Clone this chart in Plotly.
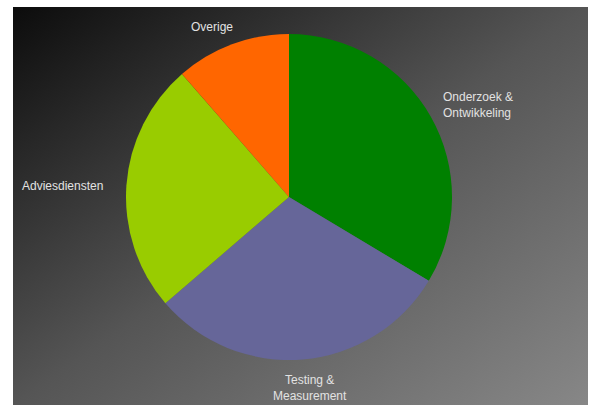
import base64
import plotly.graph_objects as go

# Revenue share by activity
categories = ["Onderzoek &<br>Ontwikkeling", "Testing &<br>Measurement", "Adviesdiensten", "Overige"]
shares = [33.6, 30.1, 24.9, 11.4]
slice_colors = ["#008000", "#666699", "#99cc00", "#ff6600"]

W, H = 593, 406

# Diagonal dark-to-grey backdrop, drawn as an inline SVG gradient
svg = (
    '<svg xmlns="http://www.w3.org/2000/svg" width="575" height="398">'
    '<defs><linearGradient id="g" x1="0" y1="0" x2="1" y2="1">'
    '<stop offset="0" stop-color="#0c0c0c"/>'
    '<stop offset="0.5" stop-color="#555555"/>'
    '<stop offset="1" stop-color="#878787"/>'
    '</linearGradient></defs>'
    '<rect width="575" height="398" fill="url(#g)"/></svg>'
)
bg_src = "data:image/svg+xml;base64," + base64.b64encode(svg.encode()).decode()

# Pie placement (pixels): centre and radius
cx, cy, r = 289, 197, 163

fig = go.Figure(
    go.Pie(
        labels=categories,
        values=shares,
        marker=dict(colors=slice_colors, line=dict(width=0)),
        sort=False,
        direction="clockwise",
        rotation=0,
        textinfo="none",
        hoverinfo="label+percent",
        showlegend=False,
        domain=dict(
            x=[(cx - r) / W, (cx + r) / W],
            y=[(H - cy - r) / H, (H - cy + r) / H],
        ),
    )
)

# Slice names placed around the pie
label_font = dict(family="Liberation Sans, Arial, sans-serif", size=12, color="#e2e2e2")
label_spots = [
    (441, 105, "left", "middle"),
    (310, 388, "center", "middle"),
    (105, 186, "right", "middle"),
    (212, 27, "center", "middle"),
]
for name, (px, py, xa, ya) in zip(categories, label_spots):
    fig.add_annotation(
        x=px / W, y=1 - py / H, xref="paper", yref="paper",
        text=name, showarrow=False, xanchor=xa, yanchor=ya,
        align="left" if xa == "left" else "center",
        font=label_font,
    )

fig.add_layout_image(
    dict(
        source=bg_src, xref="paper", yref="paper",
        x=13 / W, y=1 - 7 / H, sizex=575 / W, sizey=398 / H,
        xanchor="left", yanchor="top", sizing="stretch", layer="below",
    )
)

fig.update_layout(
    width=W, height=H,
    margin=dict(l=0, r=0, t=0, b=0),
    paper_bgcolor="white",
    plot_bgcolor="white",
)

fig.write_html("out.html")
